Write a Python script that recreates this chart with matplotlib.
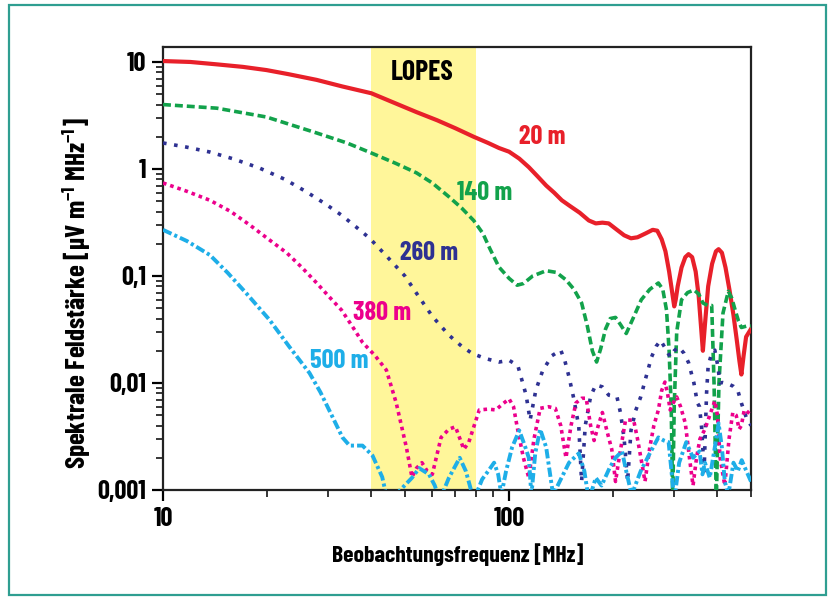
import matplotlib
matplotlib.use("Agg")
import matplotlib.pyplot as plt
from matplotlib.patches import Rectangle
from matplotlib.ticker import LogLocator, NullFormatter

plt.rcParams['font.family'] = ['Barlow Condensed', 'DejaVu Sans']
plt.rcParams['font.weight'] = 'bold'
plt.rcParams['mathtext.fontset'] = 'custom'
plt.rcParams['mathtext.rm'] = 'Barlow Condensed:bold'
plt.rcParams['mathtext.it'] = 'Barlow Condensed:bold'
plt.rcParams['mathtext.bf'] = 'Barlow Condensed:bold'
plt.rcParams['mathtext.default'] = 'rm'

# --- data (frequency in MHz, field strength in uV/m/MHz) ---
f_20 = [10, 12, 14.3, 17, 19.9, 23, 27.8, 33, 40, 47, 54, 62, 70, 79, 87, 93.5,
        100, 107, 114, 121, 128, 135, 142, 150, 160, 170, 178, 186, 194, 205, 215,
        225, 235, 248, 260, 268, 276, 283, 290, 296, 300, 303, 307, 315, 323, 330,
        338, 346, 353, 359, 363, 368, 376, 386, 396, 403, 412, 422, 433, 445, 455,
        463, 469, 476, 484, 500]
v_20 = [10.2, 10.0, 9.5, 9.0, 8.4, 7.7, 6.8, 5.9, 5.1, 4.1, 3.4, 2.85, 2.4, 2.0, 1.75, 1.57,
        1.45, 1.25, 1.04, 0.85, 0.70, 0.60, 0.51, 0.45, 0.39, 0.33, 0.31, 0.315, 0.31, 0.27, 0.24,
        0.225, 0.23, 0.25, 0.27, 0.265, 0.22, 0.17, 0.11, 0.07, 0.052, 0.06, 0.08, 0.12, 0.15, 0.16,
        0.15, 0.11, 0.065, 0.032, 0.02, 0.035, 0.08, 0.13, 0.17, 0.178, 0.165, 0.12, 0.075, 0.043, 0.025,
        0.016, 0.012, 0.018, 0.027, 0.032]

f_140 = [10, 14.3, 19.9, 27.8, 34, 40, 47, 54, 60, 67, 73, 79, 84, 88, 93.5, 100,
         105.5, 110, 117, 128, 137, 146, 154, 162, 168, 174, 179, 184, 190, 196, 203,
         210, 218, 228, 241, 255, 270, 278, 285, 290, 294, 297, 300, 305, 315, 328,
         342, 353, 363, 375, 385, 391, 397, 404, 415, 430, 440, 450, 460, 469, 485, 500]
v_140 = [4.0, 3.7, 3.06, 2.17, 1.75, 1.41, 1.13, 0.92, 0.74, 0.55, 0.43, 0.33, 0.25, 0.18, 0.121, 0.095,
         0.082, 0.085, 0.10, 0.112, 0.108, 0.092, 0.075, 0.056, 0.035, 0.02, 0.0157, 0.021, 0.032, 0.04, 0.041,
         0.035, 0.029, 0.04, 0.06, 0.075, 0.086, 0.075, 0.048, 0.02, 0.006, 0.0008, 0.006, 0.03, 0.06, 0.07,
         0.074, 0.068, 0.056, 0.053, 0.053, 0.01, 0.0008, 0.01, 0.045, 0.072, 0.062, 0.048, 0.038, 0.033, 0.034, 0.034]

f_260 = [10, 11.7, 13.66, 16, 19, 22.5, 26, 29.5, 32.8, 36, 39.5, 44.2, 50, 54, 60, 67,
         73, 78, 85, 93.5, 100, 106, 112, 115, 119.5, 125, 133, 141, 145, 149, 154,
         159, 162, 166, 172, 178, 186, 194, 205, 210, 215, 220, 225, 232, 240, 248,
         258, 266, 274, 283, 292, 300, 309, 320, 330, 342, 350, 355, 360, 366, 372,
         376, 385, 393, 400, 407, 414, 430, 445, 458, 469, 484, 500]
v_260 = [1.75, 1.6, 1.44, 1.24, 1.02, 0.8, 0.61, 0.47, 0.37, 0.29, 0.226, 0.154, 0.10, 0.069, 0.042, 0.028,
         0.022, 0.019, 0.017, 0.0157, 0.0163, 0.0145, 0.0077, 0.0045, 0.0086, 0.013, 0.018, 0.0203, 0.016, 0.0114, 0.007,
         0.0039, 0.0012, 0.004, 0.0075, 0.0096, 0.0092, 0.0077, 0.0074, 0.0052, 0.003, 0.0012, 0.0036, 0.0055, 0.0074, 0.011,
         0.0175, 0.022, 0.025, 0.021, 0.0175, 0.02, 0.0217, 0.019, 0.0155, 0.01, 0.0065, 0.006, 0.0038, 0.0015, 0.008,
         0.0144, 0.019, 0.0203, 0.015, 0.01, 0.0101, 0.0098, 0.0093, 0.0085, 0.0065, 0.0048, 0.004]

f_380 = [10, 11.7, 13.66, 15.7, 17.8, 20.2, 22.8, 25.2, 27.8, 30.2, 32.8, 35.2, 37.7, 41,
         44.2, 47.2, 50.5, 52.4, 54, 56, 58, 60, 63.6, 67, 70, 74, 76.5, 78, 82, 87,
         91.5, 96, 100, 103, 105.5, 110, 114, 118, 123, 130, 136, 141, 146, 151, 156,
         162, 167, 172, 176, 181, 186, 192, 198, 203, 208, 217, 229, 235, 241, 247,
         255, 262, 270, 276, 282, 287, 292, 298, 305, 313, 323, 332, 340, 348, 356,
         368, 380, 393, 400, 407, 420, 432, 443, 453, 462, 469, 478, 485, 500]
v_380 = [0.74, 0.62, 0.51, 0.40, 0.30, 0.22, 0.164, 0.12, 0.086, 0.064, 0.048, 0.034, 0.024, 0.018,
         0.0132, 0.0065, 0.0025, 0.00132, 0.0016, 0.0018, 0.0015, 0.0014, 0.0031, 0.0037, 0.0039, 0.0024, 0.0028, 0.0034, 0.0056, 0.0057,
         0.0056, 0.0064, 0.0071, 0.006, 0.0039, 0.002, 0.0013, 0.003, 0.0058, 0.006, 0.0058, 0.004, 0.002, 0.004, 0.0065,
         0.0072, 0.0072, 0.004, 0.0029, 0.004, 0.0053, 0.0035, 0.0024, 0.0012, 0.002, 0.0045, 0.0045, 0.003, 0.0019, 0.0012,
         0.0025, 0.004, 0.0056, 0.0085, 0.0102, 0.008, 0.0056, 0.0065, 0.0074, 0.006, 0.0042, 0.002, 0.0011, 0.002, 0.003,
         0.0037, 0.005, 0.0068, 0.005, 0.002, 0.0011, 0.003, 0.0053, 0.005, 0.0037, 0.004, 0.0056, 0.0055, 0.005]

f_500 = [10, 11.73, 13.66, 15.38, 17.4, 20.3, 23.2, 26.5, 28.5, 30.9, 33, 34.6, 37.7, 40.3,
         43, 44.5, 47, 52.4, 55, 58.7, 61, 63, 67, 72, 75, 77, 79, 83.6, 87, 90.5,
         93, 95, 98, 102, 107, 111, 114, 116, 119, 123, 128, 134, 140, 149, 159, 165,
         170, 178, 185, 195, 203, 212, 218, 226, 240, 255, 270, 280, 289, 294, 300,
         310, 325, 340, 355, 362, 368, 380, 393, 403, 412, 420, 430, 445, 458, 470,
         485, 500]
v_500 = [0.27, 0.212, 0.157, 0.107, 0.069, 0.039, 0.0217, 0.0124, 0.0082, 0.0048, 0.0031, 0.0026, 0.0026, 0.0021,
         0.00132, 0.0008, 0.0009, 0.0013, 0.0016, 0.0014, 0.0011, 0.0008, 0.0013, 0.002, 0.0015, 0.0011, 0.0008, 0.00126, 0.0015, 0.0018,
         0.0014, 0.0009, 0.0015, 0.0025, 0.0036, 0.0026, 0.002, 0.0009, 0.0022, 0.0037, 0.0025, 0.0009, 0.0012, 0.0018, 0.0022, 0.0015,
         0.0008, 0.0013, 0.0011, 0.0016, 0.002, 0.0023, 0.0015, 0.0009, 0.0015, 0.0022, 0.0031, 0.0029, 0.0028, 0.0016, 0.0008,
         0.0018, 0.0028, 0.002, 0.0023, 0.0014, 0.0018, 0.0013, 0.0025, 0.0042, 0.0025, 0.0012, 0.0009, 0.0018, 0.0015, 0.0019,
         0.0015, 0.0012]

lopes_band = (40, 80)
y_ticks = [0.001, 0.01, 0.1, 1, 10]
y_ticklabels = ['0,001', '0,01', '0,1', '1', '10']
x_ticks = [10, 100]
x_ticklabels = ['10', '100']

series = [
    (f_20, v_20, '20 m', '#e8202a', '-', 3.0, (124.5, 1.99)),
    (f_140, v_140, '140 m', '#12a24b', (0, (2.2, 1.1)), 2.6, (84.7, 0.60)),
    (f_260, v_260, '260 m', '#2e3192', (0, (1, 2.1)), 2.6, (58.8, 0.164)),
    (f_380, v_380, '380 m', '#ec008c', (0, (1, 1.1)), 2.6, (43.0, 0.045)),
    (f_500, v_500, '500 m', '#1eaee8', (0, (2.4, 0.8, 0.8, 0.8)), 2.8, (32.4, 0.0161)),
]

fig = plt.figure(figsize=(8.31, 6.05), dpi=100)
ax = fig.add_axes([163 / 831, 1 - 490 / 605, 588 / 831, 443 / 605])

ax.axvspan(*lopes_band, color='#fff69a', lw=0, zorder=0)
ax.text(56.1, 7.9, 'LOPES', ha='center', va='center', fontsize=20, fontweight='bold')

for f, v, name, col, ls, lw, pos in series:
    ax.plot(f, v, color=col, ls=ls, lw=lw, dash_capstyle='butt', zorder=3)
    ax.text(pos[0], pos[1], name, color=col, ha='center', va='center',
            fontsize=19, fontweight='bold', zorder=4)

ax.set_xscale('log')
ax.set_yscale('log')
ax.set_xlim(10, 500)
ax.set_ylim(0.001, 13.8)
ax.set_xticks(x_ticks)
ax.set_xticklabels(x_ticklabels)
ax.set_yticks(y_ticks)
ax.set_yticklabels(y_ticklabels)
ax.xaxis.set_minor_locator(LogLocator(base=10, subs=range(2, 10)))
ax.yaxis.set_minor_locator(LogLocator(base=10, subs=range(2, 10)))
ax.xaxis.set_minor_formatter(NullFormatter())
ax.yaxis.set_minor_formatter(NullFormatter())
ax.tick_params(which='major', direction='out', length=8, width=1.6, labelsize=19, pad=4)
ax.tick_params(which='minor', direction='out', length=5, width=1.1)
for s in ax.spines.values():
    s.set_linewidth(1.6)
    s.set_color('#222222')

fig.text(458 / 831, 1 - 555 / 605, 'Beobachtungsfrequenz [MHz]', ha='center', va='center',
         fontsize=17, fontweight='bold')
fig.text(77 / 831, 1 - 293 / 605, 'Spektrale Feldstärke [µV m$^{-1}$ MHz$^{-1}$]',
         ha='center', va='center', rotation=90, fontsize=19.5, fontweight='bold')

fig.patches.append(Rectangle((9 / 831, 1 - 595 / 605), 817 / 831, 590 / 605,
                             transform=fig.transFigure, fill=False,
                             edgecolor='#2f9e91', lw=1.6))

fig.savefig('out.png', dpi=100)
